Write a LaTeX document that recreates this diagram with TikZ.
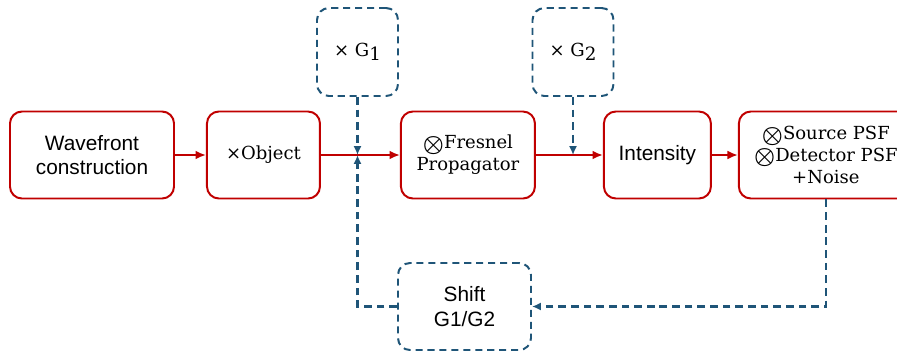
\documentclass[tikz,border=0pt]{standalone}
\usepackage{fontspec}
\setsansfont{Liberation Sans}
\newfontfamily\opfont{DejaVu Serif}
\usetikzlibrary{arrows.meta, positioning}
\definecolor{boxred}{RGB}{192,0,0}
\definecolor{dashblue}{RGB}{31,85,120}
\tikzset{
  stage/.style    = {draw=boxred, line width=1.4pt, rounded corners=8.5pt,
                     align=center, minimum height=2.175cm, inner sep=2pt,
                     fill=white},
  txt/.style      = {font=\sffamily\fontsize{14.8}{17.5}\selectfont},
  optxt/.style    = {font=\opfont\fontsize{12.8}{15.5}\selectfont},
  gate/.style     = {draw=dashblue, line width=1.4pt, dash pattern=on 5pt off 3.5pt,
                     rounded corners=8.5pt, align=center, fill=white},
  redarrow/.style = {-{Latex[length=2.6mm,width=2.2mm]}, draw=boxred, line width=1.4pt},
  fbarrow/.style  = {-{Latex[length=2.2mm,width=2mm]}, draw=dashblue, line width=1.6pt,
                     dash pattern=on 5.5pt off 3.5pt},
}
\newcommand{\sub}[1]{{\fontsize{13}{13}\selectfont\raisebox{-0.45ex}{#1}}}
\newcommand{\conv}{\raisebox{-0.25ex}{\scalebox{1.4}{$\boldsymbol{\otimes}$}}}
\usepackage{amsmath}
\begin{document}
\begin{tikzpicture}
\useasboundingbox (0,0) rectangle (22.425,-8.85);

% forward model chain
\node[stage, txt, minimum width=4.1cm] (wf) at (2.3,-3.875)
   {Wavefront\\construction};
\node[stage, optxt, minimum width=2.825cm, right=0.775cm of wf] (obj)
   {×Object};
\node[stage, optxt, minimum width=3.35cm, right=1.975cm of obj] (fres)
   {\conv Fresnel\\Propagator};
\node[stage, txt, minimum width=2.675cm, right=1.675cm of fres] (inten)
   {Intensity};
\node[stage, optxt, minimum width=4.35cm, right=0.65cm of inten] (psf)
   {\conv Source PSF\\\conv Detector PSF\\+Noise};

% gratings and shift
\node[gate, optxt, minimum width=2.025cm, minimum height=2.2cm] (gone) at (8.9375,-1.3)
   {× G\sub{1}};
\node[gate, optxt, minimum width=2.025cm, minimum height=2.2cm] (gtwo) at (14.325,-1.3)
   {× G\sub{2}};
\node[gate, txt, minimum width=3.325cm, minimum height=2.175cm] (shift) at (11.6125,-7.6625)
   {Shift\\G1/G2};

\coordinate (m1) at (gone |- obj);
\coordinate (m2) at (gtwo |- fres);

\draw[redarrow] (wf) -- (obj);
\draw[redarrow] (obj) -- (fres);
\draw[redarrow] (fres) -- (inten);
\draw[redarrow] (inten) -- (psf);

\draw[fbarrow] (gone) -- (m1);
\draw[fbarrow] (gtwo) -- (m2);
\draw[fbarrow] (psf.south) |- (shift.east);
\draw[fbarrow] (shift.west) -| (m1);
\end{tikzpicture}
\end{document}
